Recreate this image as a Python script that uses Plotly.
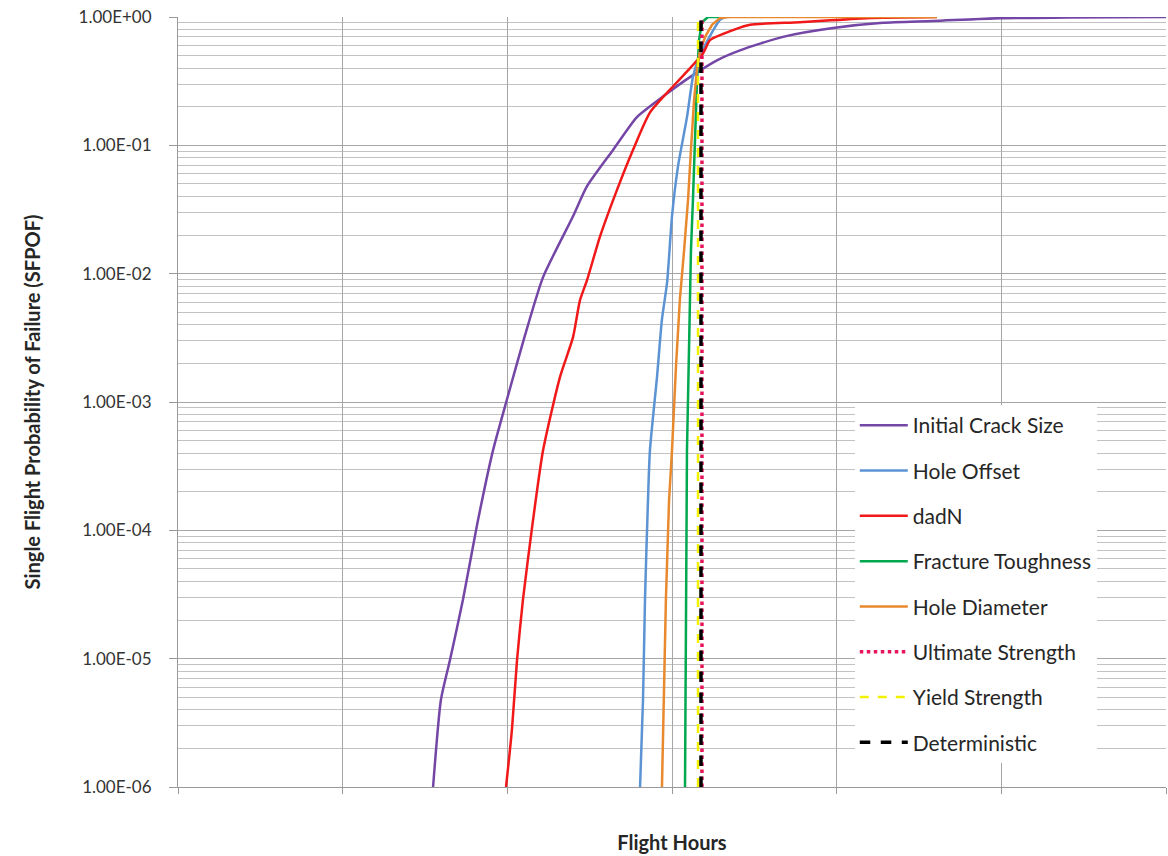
import plotly.graph_objects as go

# ---------------- data (Flight Hours, SFPOF) ----------------
crack_x = [1549, 1597, 1652, 1731, 1816, 1913, 1998, 2107, 2217, 2399, 2484, 2642, 2787, 2945,
           3109, 3273, 3413, 3674, 3978, 4281, 4585, 4992, 5399, 6000]
crack_y = [1.0e-6, 4.8e-6, 9.8e-6, 2.9e-5, 1.1e-4, 4.2e-4, 1.05e-3, 3.3e-3, 9.4e-3, 2.8e-2, 4.8e-2,
           9.2e-2, 0.166, 0.24, 0.34, 0.46, 0.55, 0.70, 0.82, 0.90, 0.93, 0.98, 0.99, 1.0]

offset_x = [2806, 2824, 2836, 2854, 2866, 2909, 2939, 2970, 3000, 3036, 3091, 3127, 3158, 3200,
            3243, 3291, 3322]
offset_y = [1.0e-6, 4.8e-6, 2.9e-5, 1.7e-4, 4.2e-4, 1.57e-3, 4.4e-3, 8.5e-3, 2.8e-2, 6.8e-2,
            0.166, 0.34, 0.46, 0.60, 0.76, 0.95, 1.0]

dadn_x = [1992, 2028, 2059, 2095, 2156, 2217, 2320, 2399, 2441, 2484, 2563, 2666, 2763, 2866,
          3030, 3188, 3231, 3370, 3474, 3777, 4184, 4609]
dadn_y = [1.0e-6, 2.8e-6, 9.8e-6, 2.9e-5, 1.2e-4, 4.2e-4, 1.57e-3, 3.2e-3, 6.2e-3, 8.9e-3,
          1.95e-2, 4.5e-2, 9.2e-2, 0.18, 0.31, 0.52, 0.66, 0.79, 0.87, 0.91, 0.98, 1.0]

fract_x = [3079, 3085, 3091, 3103, 3115, 3127, 3140, 3152, 3164, 3182, 3219, 3304]
fract_y = [1.0e-6, 2.9e-5, 4.2e-4, 2.5e-3, 1.5e-2, 3.7e-2, 0.13, 0.32, 0.66, 0.91, 1.0, 1.0]

diam_x = [2939, 2951, 2963, 2982, 3000, 3024, 3048, 3073, 3097, 3115, 3134, 3152, 3170, 3206,
          3243, 3291, 3352, 4609]
diam_y = [1.0e-6, 4.8e-6, 2.9e-5, 1.7e-4, 4.2e-4, 1.87e-3, 6.3e-3, 1.5e-2, 3.7e-2, 9.2e-2,
          0.225, 0.39, 0.55, 0.72, 0.87, 0.98, 1.0, 1.0]

ult_x = [3182, 3182]
ult_y = [1.0e-6, 1.0]

yield_x = [3158, 3158]
yield_y = [1.0e-6, 1.0]

det_x = [3176, 3176]
det_y = [1.0e-6, 1.0]

y_tickvals = [1e-6, 1e-5, 1e-4, 1e-3, 1e-2, 1e-1, 1]
y_ticktext = ["1.00E-06", "1.00E-05", "1.00E-04", "1.00E-03", "1.00E-02", "1.00E-01", "1.00E+00"]

series = [
    ("Initial Crack Size", crack_x, crack_y, "#7446A6", "solid", 2.5, "spline"),
    ("Hole Offset", offset_x, offset_y, "#5B93D3", "solid", 2.5, "spline"),
    ("dadN", dadn_x, dadn_y, "#F01818", "solid", 2.5, "spline"),
    ("Fracture Toughness", fract_x, fract_y, "#00A84F", "solid", 2.5, "linear"),
    ("Hole Diameter", diam_x, diam_y, "#E8892E", "solid", 2.5, "linear"),
    ("Ultimate Strength", ult_x, ult_y, "#E8145A", "dot", 3.5, "linear"),
    ("Yield Strength", yield_x, yield_y, "#F2F200", "dash", 2.5, "linear"),
    ("Deterministic", det_x, det_y, "#000000", "dash", 3.5, "linear"),
]

FONT = "Lato"

fig = go.Figure()
for name, xs, ys, col, dash, w, shape in series:
    line = dict(color=col, dash=dash, width=w, shape=shape)
    if shape == "spline":
        line["smoothing"] = 0.6
    fig.add_trace(go.Scatter(
        x=xs, y=ys, name=name, mode="lines", legendgroup=name, line=line,
    ))

fig.update_layout(
    width=1168, height=856,
    margin=dict(l=178, r=2, t=17, b=69),
    paper_bgcolor="white", plot_bgcolor="white",
    font=dict(family=FONT, color="#262626"),
    showlegend=True,
    legend=dict(
        x=0.685, y=0.496, xanchor="left", yanchor="top",
        bgcolor="white", borderwidth=0,
        font=dict(family=FONT, size=21, color="#262626"),
        tracegroupgap=15, itemwidth=48,
    ),
)

fig.update_xaxes(
    range=[0, 6000], dtick=1000, tick0=0,
    showticklabels=False, ticks="outside", ticklen=6, tickcolor="#999999",
    showgrid=True, gridcolor="#a6a6a6", gridwidth=1,
    showline=True, linecolor="#999999", linewidth=1,
    zeroline=False,
    title=dict(text="<b>Flight Hours</b>", font=dict(family=FONT, size=20, color="#262626"), standoff=42),
)

fig.update_yaxes(
    type="log", range=[-6, 0],
    tickmode="array", tickvals=y_tickvals, ticktext=y_ticktext,
    ticks="outside", ticklen=8, tickcolor="#999999",
    tickfont=dict(family=FONT, size=17, color="#333333"),
    ticklabelstandoff=14,
    showgrid=True, gridcolor="#a6a6a6", gridwidth=1,
    minor=dict(dtick="D1", showgrid=True, gridcolor="#c2c2c2", gridwidth=1),
    showline=True, linecolor="#999999", linewidth=1,
    zeroline=False,
    title=dict(text="<b>Single Flight Probability of Failure (SFPOF)</b>",
               font=dict(family=FONT, size=20, color="#262626"), standoff=32),
)

fig.write_html("out.html")
